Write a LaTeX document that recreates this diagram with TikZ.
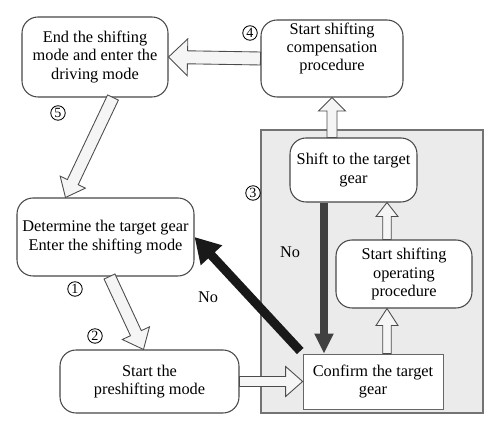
\documentclass[tikz,border=0pt]{standalone}
\usepackage{fontspec}
\setmainfont{Liberation Serif}
\usetikzlibrary{calc,arrows.meta}
\newcommand{\harrow}[5]{%
  \coordinate (hC) at ($(#2)!#5!(#1)$);
  \draw[hollowarr] ($(#1)!#3!90:(#2)$) -- ($(hC)!#3!90:(#2)$) -- ($(hC)!#4!90:(#2)$) -- (#2) -- ($(hC)!#4!-90:(#2)$) -- ($(hC)!#3!-90:(#2)$) -- ($(#1)!#3!-90:(#2)$) -- cycle;}
\begin{document}
\begin{tikzpicture}[x=0.02cm,y=-0.02cm,
  font=\fontsize{9.3}{10.4}\selectfont,
  box/.style={draw=black!72, line width=0.6pt, rounded corners=0.32cm, fill=white, align=center, inner sep=0pt},
  hollowarr/.style={draw=black!70, line width=0.5pt, fill=black!4, line join=miter},
  num/.style={circle, draw, line width=0.5pt, inner sep=0pt, minimum size=0.29cm, font=\fontsize{8}{8}\selectfont},
  lbl/.style={inner sep=0pt}]
\useasboundingbox (0,0) rectangle (500,431);
\path[fill=black!8, draw=black!55, line width=0.6pt] (261,130) rectangle (483,413);
\node[box, minimum width=2.92cm, minimum height=1.6cm] (end) at (95,57) {End the shifting\\mode and enter the\\driving mode};
\node[box, minimum width=2.84cm, minimum height=1.54cm] (comp) at (332,58.5) {Start shifting\\compensation\\procedure\\[3pt]};
\node[box, minimum width=2.54cm, minimum height=1.28cm] (shift) at (353.5,170) {Shift to the target\\gear};
\node[box, minimum width=2.72cm, minimum height=1.36cm] (oper) at (404,274) {Start shifting\\operating\\procedure};
\node[box, sharp corners, draw=black!60, line width=0.45pt, minimum width=2.8cm, minimum height=1.1cm] (confirm) at (373,381.5) {Confirm the target\\gear};
\node[box, minimum width=3.54cm, minimum height=1.56cm] (det) at (105.5,237) {Determine the target gear\\Enter the shifting mode};
\node[box, minimum width=3.58cm, minimum height=1.26cm] (pre) at (149.5,381.5) {Start the\\preshifting mode};
\node[num] (n4) at (250,33) {4};
\node[num] (n5) at (58,113) {5};
\node[num] (n1) at (75,289) {1};
\node[num] (n2) at (95,336) {2};
\node[num] (n3) at (253,193) {3};
\node[lbl] (no1) at (290,252) {No};
\node[lbl] (no2) at (208,297) {No};
\coordinate (e5) at ($(end.south)+(18,0)$);
\coordinate (d5) at ($(det.north)+(-40,0)$);
\coordinate (d1) at ($(det.south)+(4,0)$);
\coordinate (p1) at ($(pre.north)+(-6,0)$);
\coordinate (mx) at (387,0);
\coordinate (dx) at (324,0);
\coordinate (s1) at (shift.north -| comp.south);
\coordinate (c1) at (confirm.north -| mx);
\coordinate (o1) at (oper.south -| mx);
\coordinate (o2) at (oper.north -| mx);
\coordinate (s2) at (shift.south -| mx);
\coordinate (s3) at (shift.south -| dx);
\coordinate (c3) at (confirm.north -| dx);
\harrow{comp.west}{end.east}{0.13cm}{0.37cm}{0.38cm}
\harrow{e5}{d5}{0.12cm}{0.28cm}{0.34cm}
\harrow{d1}{p1}{0.12cm}{0.3cm}{0.36cm}
\harrow{pre.east}{confirm.west}{0.1cm}{0.3cm}{0.34cm}
\harrow{c1}{o1}{0.085cm}{0.22cm}{0.34cm}
\harrow{o2}{s2}{0.085cm}{0.22cm}{0.28cm}
\harrow{s1}{comp.south}{0.1cm}{0.27cm}{0.27cm}
\draw[line width=0.15cm, draw=black!75, -{Triangle[length=0.4cm,width=0.36cm]}] (s3) -- (c3);
\draw[line width=0.18cm, draw=black!90, shorten <=0.07cm, -{Triangle[length=0.5cm,width=0.55cm]}] (confirm.north west) -- (det.east);
\end{tikzpicture}
\end{document}
